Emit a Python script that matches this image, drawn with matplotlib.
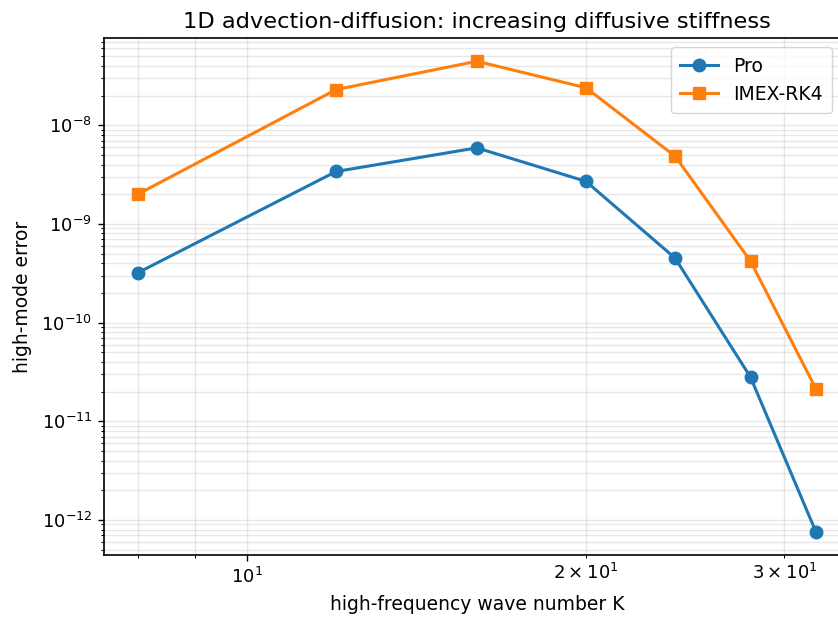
import matplotlib
matplotlib.use("Agg")
import matplotlib.pyplot as plt

K = [8, 12, 16, 20, 24, 28, 32]
pro_err = [3.2e-10, 3.4e-9, 5.9e-9, 2.7e-9, 4.5e-10, 2.8e-11, 7.6e-13]
imex_err = [2.0e-9, 2.3e-8, 4.45e-8, 2.4e-8, 4.85e-9, 4.2e-10, 2.14e-11]

plt.rcParams['axes.linewidth'] = 1.2
fig, ax = plt.subplots(figsize=(8.38, 6.19), dpi=100)
ax.loglog(K, pro_err, marker='o', markersize=9, linewidth=2.2, label='Pro')
ax.loglog(K, imex_err, marker='s', markersize=9, linewidth=2.2, label='IMEX-RK4')
ax.grid(True, which='both', alpha=0.3, linewidth=1.0)
ax.set_xlabel('high-frequency wave number K', fontsize=13.5, labelpad=6)
ax.set_ylabel('high-mode error', fontsize=13.5, labelpad=7)
ax.set_title('1D advection-diffusion: increasing diffusive stiffness', fontsize=16.2, pad=7)
ax.tick_params(which='both', labelsize=13)
ax.tick_params(which='major', length=4.3, width=1.0, pad=4.2)
ax.tick_params(which='minor', length=2.4, width=0.75)
ax.legend(fontsize=13.5, borderpad=0.5, loc='upper right', bbox_to_anchor=(0.9885, 1.0))
fig.subplots_adjust(left=0.124, right=1.014, top=0.939, bottom=0.103)
fig.savefig('out.png', dpi=100)
